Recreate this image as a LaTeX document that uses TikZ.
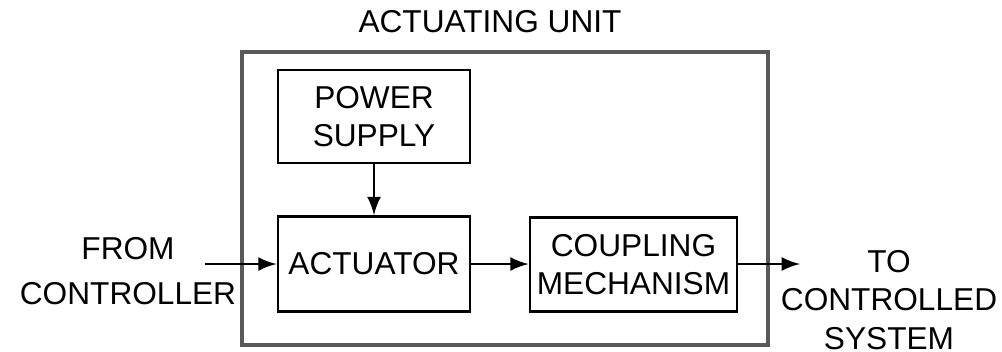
\documentclass[tikz,border=0pt]{standalone}
\usepackage{fontspec}
\setmainfont{Liberation Sans}
\usepackage{tikz}

\begin{document}
\begin{tikzpicture}[>=latex, font=\fontsize{9}{12}\selectfont,
		block/.style={draw, thick, align=center, inner sep=0pt}]
			\useasboundingbox (0,0) rectangle (10.02,3.51);
			\node at (4.90,3.29) (unitlabel) {ACTUATING UNIT};
			\draw[line width=1.1pt, black!65] (2.42,2.99) rectangle (7.68,0.06);

			\node[block, minimum width=1.92cm, minimum height=0.93cm] at (3.74,2.345) (supply) {POWER\\[-1pt]SUPPLY};
			\node[block, minimum width=1.92cm, minimum height=0.95cm] at (3.74,0.87) (actuator) {ACTUATOR};
			\node[block, minimum width=2.07cm, minimum height=0.94cm] at (6.335,0.865) (coupling) {COUPLING\\[-1pt]MECHANISM};

			\node[align=center] at (1.28,0.80) (from) {FROM\\[1pt]CONTROLLER};
			\node[align=center] at (8.89,0.51) (to) {TO\\[-1pt]CONTROLLED\\[-1pt]SYSTEM};

			\coordinate (in) at (2.05,0.87);
			\coordinate (out) at (8.00,0.87);
			\draw[thick,->] (supply) -- (actuator);
			\draw[thick,->] (in) -- (actuator);
			\draw[thick,->] (actuator.east) -- (actuator.east -| coupling.west);
			\draw[thick,->] (coupling.east |- out) -- (out);
		\end{tikzpicture}
\end{document}
